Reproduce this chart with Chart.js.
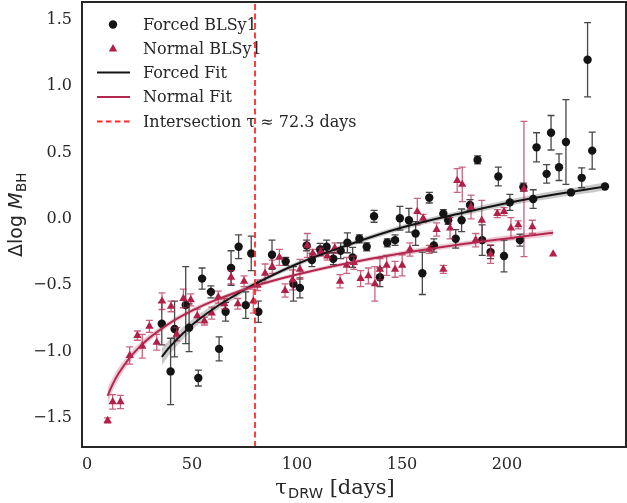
<!DOCTYPE html>
<html><head><meta charset="utf-8">
<script src="https://cdn.jsdelivr.net/npm/chart.js@4/dist/chart.umd.min.js"></script>
<style>html,body{margin:0;padding:0;background:#fff;}canvas{display:block;}</style>
</head><body>
<canvas id="c" width="627" height="503"></canvas>
<script>
// ---- data ----
const FORCED_TAU = [35.6,39.8,41.7,47.0,48.6,54.8,53.0,59.0,62.9,66.0,68.6,72.2,75.6,78.2,81.6,88.1,94.6,98.3,101.4,104.6,107.1,111.0,114.1,117.3,120.8,124.0,126.5,129.7,133.2,136.7,139.5,143.0,146.7,149.0,153.3,156.5,159.7,163.0,165.2,169.7,172.0,175.6,178.4,182.4,186.0,188.2,192.2,195.9,198.6,201.4,206.2,207.8,212.5,214.1,218.9,221.0,224.8,228.1,230.5,235.6,238.4,240.6,246.7];
const FORCED_DM  = [-0.79,-1.15,-0.83,-0.65,-0.82,-0.45,-1.20,-0.55,-0.98,-0.70,-0.37,-0.21,-0.65,-0.26,-0.70,-0.27,-0.32,-0.49,-0.52,-0.20,-0.31,-0.23,-0.21,-0.30,-0.24,-0.18,-0.29,-0.15,-0.21,0.02,-0.44,-0.18,-0.16,0.005,-0.01,-0.11,-0.41,0.16,-0.20,0.04,-0.01,-0.15,-0.01,0.105,0.445,-0.16,-0.25,0.32,-0.28,0.125,-0.16,0.24,0.15,0.54,0.34,0.65,0.39,0.58,0.20,0.31,1.20,0.515,0.245];
const FORCED_ERR = [0.16,0.25,0.21,0.29,0.18,0.08,0.06,0.045,0.09,0.07,0.13,0.09,0.10,0.13,0.08,0.11,0.03,0.13,0.075,0.04,0.05,0.045,0.05,0.045,0.06,0.075,0.075,0.03,0.03,0.045,0.07,0.03,0.04,0.09,0.09,0.09,0.16,0.04,0.05,0.03,0.03,0.07,0.085,0.04,0.03,0.115,0.05,0.07,0.12,0.06,0.045,0.03,0.07,0.11,0.07,0.13,0.10,0.32,0,0.075,0.28,0.14,0];

const NORMAL_TAU = [9.8,12.2,15.9,20.3,24.0,26.3,29.7,33.2,35.7,40.0,42.7,45.9,49.4,52.5,55.9,59.4,62.5,65.4,68.6,71.8,74.8,79.2,81.2,84.8,88.2,91.6,94.3,97.9,101.4,104.9,107.5,111.3,114.4,118.0,120.5,123.7,127.1,130.3,134.0,137.1,139.5,142.7,146.7,150.1,153.8,157.3,160.1,163.0,166.5,169.7,172.9,176.3,178.7,182.9,185.1,188.0,192.2,195.4,198.6,201.9,205.4,208.1,212.1,222.0];
const NORMAL_DM  = [-1.52,-1.38,-1.38,-1.03,-0.88,-0.96,-0.81,-0.93,-0.62,-0.66,-0.87,-0.60,-0.61,-0.73,-0.77,-0.71,-0.59,-0.64,-0.44,-0.64,-0.47,-0.62,-0.50,-0.41,-0.36,-0.29,-0.54,-0.46,-0.38,-0.20,-0.26,-0.25,-0.28,-0.22,-0.47,-0.35,-0.33,-0.45,-0.43,-0.49,-0.38,-0.35,-0.38,-0.35,-0.23,0.055,0.005,-0.23,-0.08,-0.38,-0.07,0.29,0.26,0.09,-0.16,-0.01,-0.265,0.04,0.055,-0.07,-0.045,0.225,-0.06,-0.265];
const NORMAL_ERR = [0.02,0.055,0.05,0.065,0.035,0.09,0.045,0.06,0.063,0.04,0.05,0.07,0.045,0.05,0.03,0.045,0.045,0.04,0.05,0.04,0.04,0.09,0.04,0.07,0.05,0.06,0.05,0.075,0.075,0.09,0.03,0.03,0.03,0.04,0.05,0.06,0.05,0.06,0.06,0.13,0.08,0.075,0.06,0.08,0.05,0.10,0.03,0.03,0.05,0.03,0.08,0.09,0.13,0.09,0.05,0.15,0.07,0.03,0.03,0.08,0.03,0.51,0.05,0];

const FORCED_FIT_TAU  = [35.6,40,50,60,70,80,100,120,150,180,210,246.7];
const FORCED_FIT      = [-1.04,-0.955,-0.80,-0.68,-0.58,-0.49,-0.34,-0.22,-0.065,0.05,0.15,0.245];
const FORCED_FIT_BAND = [0.065,0.055,0.04,0.03,0.025,0.02,0.018,0.018,0.02,0.022,0.025,0.03];

const NORMAL_FIT_TAU  = [9.8,12,15,20,25,30,40,50,60,80,100,120,150,180,222];
const NORMAL_FIT      = [-1.334,-1.254,-1.166,-1.053,-0.965,-0.893,-0.780,-0.692,-0.620,-0.506,-0.419,-0.347,-0.259,-0.187,-0.104];
const NORMAL_FIT_BAND = [0.06,0.05,0.045,0.035,0.03,0.025,0.02,0.018,0.016,0.015,0.015,0.015,0.018,0.02,0.025];

const INTERSECT_TAU = 80;
const X_TICKS = [0,50,100,150,200];
const Y_TICKS = [-1.5,-1.0,-0.5,0.0,0.5,1.0,1.5];
const LABELS = ['Forced BLSy1','Normal BLSy1','Forced Fit','Normal Fit','Intersection \u03c4 \u2248 72.3 days'];

// ---- styles ----
const BLACK = '#141414';
const CRIMSON = '#b21f47';
const CRIMSON_LINE = '#b3284f';
const TXT = '#262626';
const SERIF = '"DejaVu Serif"';
const SANS = '"DejaVu Sans"';
const X_MIN = -2.4, X_MAX = 256.7, Y_MIN = -1.72, Y_MAX = 1.636;

const pts = (xs, ys) => xs.map((x, i) => ({x, y: ys[i]}));
const shift = (xs, ys, bs, s) => xs.map((x, i) => ({x, y: ys[i] + s * bs[i]}));

const errorBars = {
  id: 'errorBars',
  beforeDatasetDraw(chart, args) {
    const ds = chart.data.datasets[args.index];
    if (!ds.errors) return;
    const xs = chart.scales.x, ys = chart.scales.y, ctx = chart.ctx;
    const a = chart.chartArea;
    ctx.save();
    ctx.beginPath(); ctx.rect(a.left, a.top, a.right - a.left, a.bottom - a.top); ctx.clip();
    ctx.strokeStyle = ds.errorColor; ctx.lineWidth = 1.3;
    ds.data.forEach((p, i) => {
      const e = ds.errors[i];
      if (!e) return;
      const px = xs.getPixelForValue(p.x);
      const y1 = ys.getPixelForValue(p.y - e), y2 = ys.getPixelForValue(p.y + e);
      ctx.beginPath();
      ctx.moveTo(px, y1); ctx.lineTo(px, y2);
      ctx.moveTo(px - 3.5, y1); ctx.lineTo(px + 3.5, y1);
      ctx.moveTo(px - 3.5, y2); ctx.lineTo(px + 3.5, y2);
      ctx.stroke();
    });
    ctx.restore();
  }
};

const legendAndFrame = {
  id: 'legendAndFrame',
  beforeDatasetsDraw(chart) {
    const ctx = chart.ctx;
    const rows = [24.5, 48.5, 72.5, 97, 121.5];
    const mx = 113, lx0 = 97, lx1 = 130, tx = 143;
    ctx.save();
    ctx.fillStyle = BLACK; ctx.beginPath(); ctx.arc(mx, rows[0], 4.2, 0, Math.PI * 2); ctx.fill();
    ctx.fillStyle = CRIMSON; ctx.beginPath();
    ctx.moveTo(mx, rows[1] - 4.5); ctx.lineTo(mx + 4.2, rows[1] + 3); ctx.lineTo(mx - 4.2, rows[1] + 3); ctx.closePath(); ctx.fill();
    ctx.lineWidth = 2;
    ctx.strokeStyle = BLACK; ctx.beginPath(); ctx.moveTo(lx0, rows[2]); ctx.lineTo(lx1, rows[2]); ctx.stroke();
    ctx.strokeStyle = CRIMSON_LINE; ctx.beginPath(); ctx.moveTo(lx0, rows[3]); ctx.lineTo(lx1, rows[3]); ctx.stroke();
    ctx.strokeStyle = '#ff2a2a'; ctx.setLineDash([5.5, 3.5]); ctx.beginPath(); ctx.moveTo(lx0, rows[4]); ctx.lineTo(lx1, rows[4]); ctx.stroke();
    ctx.setLineDash([]);
    ctx.fillStyle = TXT; ctx.font = '16px ' + SERIF; ctx.textBaseline = 'middle'; ctx.textAlign = 'left';
    LABELS.forEach((t, i) => ctx.fillText(t, tx, rows[i] + 1));
    ctx.restore();
  },
  afterDraw(chart) {
    const ctx = chart.ctx, a = chart.chartArea;
    ctx.save();
    ctx.strokeStyle = '#262626'; ctx.lineWidth = 2;
    ctx.strokeRect(a.left, a.top, a.right - a.left, a.bottom - a.top);
    ctx.translate(15, 215); ctx.rotate(-Math.PI / 2);
    ctx.fillStyle = TXT; ctx.textBaseline = 'alphabetic';
    const f1 = '19px ' + SANS, f2 = 'italic 19px ' + SANS, f3 = '13.5px ' + SANS;
    ctx.font = f1; const w1 = ctx.measureText('\u0394log ').width;
    ctx.font = f2; const w2 = ctx.measureText('M').width;
    ctx.font = f3; const w3 = ctx.measureText('BH').width;
    let x0 = -(w1 + w2 + w3) / 2;
    ctx.font = f1; ctx.fillText('\u0394log ', x0, 7); x0 += w1;
    ctx.font = f2; ctx.fillText('M', x0, 7); x0 += w2;
    ctx.font = f3; ctx.fillText('BH', x0 + 0.5, 11);
    ctx.restore();
    ctx.save(); ctx.fillStyle = TXT; ctx.textBaseline = 'alphabetic';
    const g1 = '21px ' + SERIF, g2 = '14.5px ' + SANS;
    ctx.font = g1; const v1 = ctx.measureText('\u03c4').width; const v3 = ctx.measureText(' [days]').width;
    ctx.font = g2; const v2 = ctx.measureText('DRW').width;
    let xx = 334.5 - (v1 + v2 + v3) / 2;
    ctx.font = g1; ctx.fillText('\u03c4', xx, 494); xx += v1;
    ctx.font = g2; ctx.fillText('DRW', xx + 1, 498); xx += v2 + 1;
    ctx.font = g1; ctx.fillText(' [days]', xx, 494);
    ctx.restore();
  }
};

const noPad = s => { s.paddingTop = 0; s.paddingBottom = 0; s.paddingLeft = 0; s.paddingRight = 0; };

new Chart(document.getElementById('c'), {
  type: 'scatter',
  data: {
    datasets: [
      {label: 'Forced band lo', type: 'line', data: shift(FORCED_FIT_TAU, FORCED_FIT, FORCED_FIT_BAND, -1), borderWidth: 0, pointRadius: 0, tension: 0.4, fill: false, order: 10},
      {label: 'Forced band hi', type: 'line', data: shift(FORCED_FIT_TAU, FORCED_FIT, FORCED_FIT_BAND, 1), borderWidth: 0, pointRadius: 0, tension: 0.4, fill: '-1', backgroundColor: 'rgba(90,90,90,0.32)', order: 9},
      {label: 'Normal band lo', type: 'line', data: shift(NORMAL_FIT_TAU, NORMAL_FIT, NORMAL_FIT_BAND, -1), borderWidth: 0, pointRadius: 0, tension: 0.4, fill: false, order: 8},
      {label: 'Normal band hi', type: 'line', data: shift(NORMAL_FIT_TAU, NORMAL_FIT, NORMAL_FIT_BAND, 1), borderWidth: 0, pointRadius: 0, tension: 0.4, fill: '-1', backgroundColor: 'rgba(200,90,120,0.32)', order: 7},
      {label: LABELS[0], data: pts(FORCED_TAU, FORCED_DM), errors: FORCED_ERR, errorColor: 'rgba(40,40,40,0.85)', pointStyle: 'circle', pointRadius: 4.2, backgroundColor: BLACK, borderWidth: 0, order: 6},
      {label: LABELS[1], data: pts(NORMAL_TAU, NORMAL_DM), errors: NORMAL_ERR, errorColor: 'rgba(178,34,72,0.7)', pointStyle: 'triangle', pointRadius: 4.8, backgroundColor: CRIMSON, borderWidth: 0, order: 5},
      {label: LABELS[2], type: 'line', data: pts(FORCED_FIT_TAU, FORCED_FIT), borderColor: BLACK, borderWidth: 2, pointRadius: 0, tension: 0.4, fill: false, order: 4},
      {label: LABELS[3], type: 'line', data: pts(NORMAL_FIT_TAU, NORMAL_FIT), borderColor: CRIMSON_LINE, borderWidth: 2, pointRadius: 0, tension: 0.4, fill: false, order: 3},
      {label: LABELS[4], type: 'line', data: [{x: INTERSECT_TAU, y: Y_MIN}, {x: INTERSECT_TAU, y: Y_MAX}], borderColor: '#ff2a2a', borderWidth: 1.8, borderDash: [6, 3.5], pointRadius: 0, fill: false, order: 1}
    ]
  },
  options: {
    responsive: false, animation: false, events: [],
    layout: {autoPadding: false, padding: {top: 2, right: 1, left: 0, bottom: 0}},
    plugins: {legend: {display: false}, tooltip: {enabled: false}},
    scales: {
      x: {type: 'linear', min: X_MIN, max: X_MAX,
        grid: {display: false, drawTicks: false}, border: {display: false},
        afterBuildTicks: s => { s.ticks = X_TICKS.map(v => ({value: v})); },
        afterFit: s => { s.height = 56; noPad(s); },
        ticks: {padding: 8, color: TXT, font: {family: SERIF, size: 16}, callback: v => String(v)}},
      y: {type: 'linear', min: Y_MIN, max: Y_MAX,
        grid: {display: false, drawTicks: false}, border: {display: false},
        afterBuildTicks: s => { s.ticks = Y_TICKS.map(v => ({value: v})); },
        afterFit: s => { s.width = 82; noPad(s); },
        ticks: {padding: 10, color: TXT, font: {family: SERIF, size: 16}, callback: v => (v < 0 ? '\u2212' : '') + Math.abs(v).toFixed(1)}}
    }
  },
  plugins: [errorBars, legendAndFrame]
});
</script>
</body></html>
